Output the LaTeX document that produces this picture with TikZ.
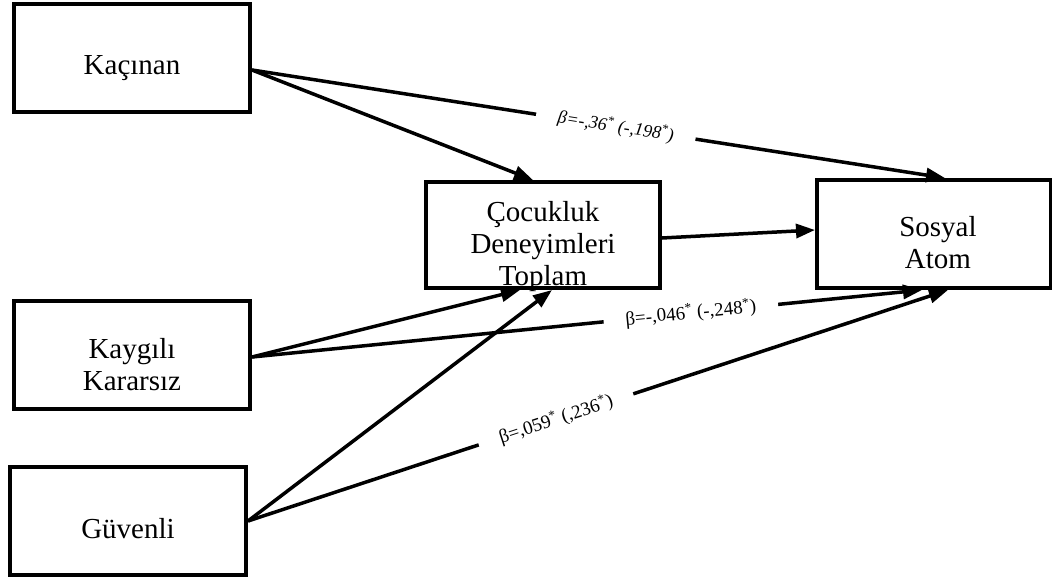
\documentclass[tikz,border=0pt]{standalone}
\usepackage{fontspec}
\setmainfont{Liberation Serif}
\usetikzlibrary{arrows.meta}
\begin{document}
\begin{tikzpicture}[x=1pt, y=-1pt,
    box/.style={draw, line width=4pt, minimum width=236pt, minimum height=108pt, inner sep=0pt},
    boxtext/.style={font=\fontsize{29}{32}\selectfont, align=center},
    link/.style={line width=3.5pt, -{Triangle[length=19pt,width=14pt]}},
    coef/.style={sloped, fill=white, inner xsep=22pt, inner ysep=1pt, font=\fontsize{19}{21}\selectfont}]
    \useasboundingbox (0,0) rectangle (1052,581);

    % boxes
    \node[box, label={[boxtext,yshift=-10pt]center:Kaçınan}] (kac) at (132,58) {};
    \node[box, label={[boxtext,yshift=-10pt]center:Kaygılı\\Kararsız}] (kay) at (132,355) {};
    \node[box, label={[boxtext,yshift=-8pt]center:Güvenli}] (gu) at (128,521) {};
    \node[box, minimum width=234pt, minimum height=106pt,
      label={[boxtext,yshift=-12pt]center:Çocukluk\\Deneyimleri\\Toplam}] (cd) at (543,235) {};
    \node[box, minimum width=234pt, label={[boxtext,yshift=-9pt,xshift=4pt]center:Sosyal\\Atom}] (so) at (934,234) {};

    % paths
    \draw[link] ([yshift=-12pt]kac.east) -- ([xshift=-10pt]cd.north);
    \draw[link] ([yshift=-12pt]kac.east) --
      node[coef, pos=0.525, font=\fontsize{18}{20}\selectfont\itshape] {β=-,36\textsuperscript{*} (-,198\textsuperscript{*})}
      ([xshift=11pt]so.north);
    \draw[link] ([yshift=-3pt]cd.east) -- ([yshift=4pt]so.west);
    \draw[link] ([yshift=-2pt]kay.east) -- ([xshift=-23pt]cd.south);
    \draw[link] ([yshift=-2pt]kay.east) --
      node[coef, pos=0.655] {β=-,046\textsuperscript{*} (-,248\textsuperscript{*})}
      ([xshift=-12pt]so.south);
    \draw[link] (gu.east) -- ([xshift=9pt]cd.south);
    \draw[link] (gu.east) --
      node[coef, pos=0.44] {β=,059\textsuperscript{*} (,236\textsuperscript{*})}
      ([xshift=14pt]so.south);
\end{tikzpicture}
\end{document}
